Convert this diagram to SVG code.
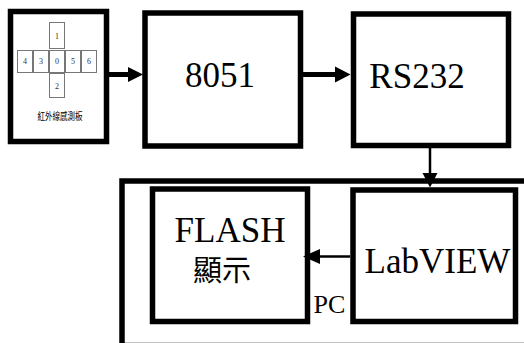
<svg xmlns="http://www.w3.org/2000/svg" width="524" height="343" viewBox="0 0 524 343">
<style>
.box{fill:#fff;stroke:#000;stroke-width:5.5}
.cell{fill:#fff;stroke:#777;stroke-width:1}
.big{font-family:"Liberation Serif","Times New Roman",serif;font-size:35px;fill:#000;text-anchor:middle}
.cjk{font-family:"Liberation Serif","Noto Sans CJK TC",serif;fill:#000;text-anchor:middle}
.small{font-family:"Liberation Serif",serif;font-size:8px;fill:#333;text-anchor:middle}
.thick{stroke:#000;stroke-width:5;fill:none}
.thin{stroke:#000;stroke-width:2.5;fill:none}
.head{fill:#000}
</style>
<rect width="524" height="343" fill="#fff"/>
<g id="pc">
<rect class="box" x="122" y="181" width="420" height="164.5"/>
<text class="big" x="329.5" y="313" style="font-size:26px">PC</text>
</g>
<g id="sensor">
<rect class="box" x="10.5" y="11.5" width="96" height="130" stroke-width="6"/>
<rect class="cell" x="49.5" y="22.5" width="15" height="26"/>
<rect class="cell" x="17.5" y="50.5" width="15" height="22"/>
<rect class="cell" x="33.5" y="50.5" width="15" height="22"/>
<rect class="cell" x="49.5" y="50.5" width="15" height="22"/>
<rect class="cell" x="65.5" y="50.5" width="15" height="22"/>
<rect class="cell" x="81.5" y="50.5" width="15" height="22"/>
<rect class="cell" x="49.5" y="73.5" width="15" height="24"/>
<text class="small" x="57" y="39">1</text>
<text class="small" x="25" y="64">4</text>
<text class="small" x="41" y="64">3</text>
<text class="small" x="57" y="64">0</text>
<text class="small" x="73" y="64">5</text>
<text class="small" x="89" y="64">6</text>
<text class="small" x="57" y="89">2</text>
<text class="cjk" x="0" y="0" style="font-size:7.5px" transform="translate(60,120) scale(1,1.3)">紅外線感測板</text>
</g>
<g id="mcu">
<rect class="box" x="145" y="13" width="155.5" height="133"/>
<text class="big" x="220" y="87">8051</text>
</g>
<g id="rs232">
<rect class="box" x="353.5" y="14" width="155" height="131.5"/>
<text class="big" x="417" y="88">RS232</text>
</g>
<g id="flash">
<rect class="box" x="152.5" y="189" width="155" height="132.5"/>
<text class="big" x="230" y="242">FLASH</text>
<text class="cjk" x="222" y="281" style="font-size:29px">顯示</text>
</g>
<g id="labview">
<rect class="box" x="353" y="190" width="162.5" height="131.5"/>
<text class="big" x="437.5" y="273">LabVIEW</text>
</g>
<g id="connectors">
<line class="thick" x1="109" y1="74.5" x2="130" y2="74.5"/>
<polygon class="head" points="128,67 143,74.5 128,82"/>
<line class="thick" x1="303" y1="74.5" x2="337" y2="74.5"/>
<polygon class="head" points="335,66.5 350.5,74.5 335,82.5"/>
<line class="thin" x1="430" y1="148" x2="430" y2="175"/>
<polygon class="head" points="422.5,173 437.5,173 430,187.5"/>
<line class="thin" x1="350" y1="256.5" x2="318" y2="256.5"/>
<polygon class="head" points="320,249 320,264 303,256.5"/>
</g>
</svg>
